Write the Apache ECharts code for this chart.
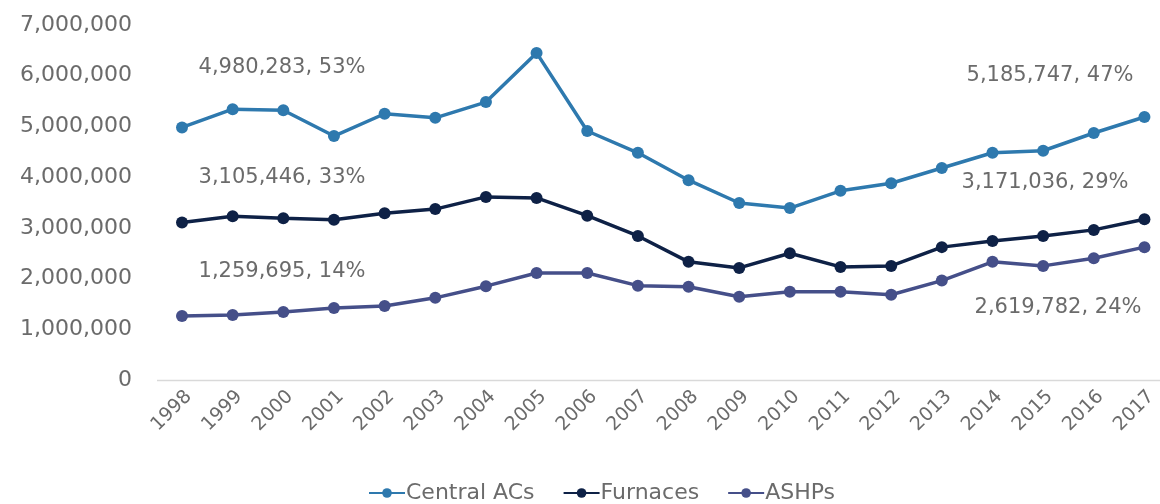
<!DOCTYPE html>
<html>
<head>
<meta charset="utf-8">
<script src="https://cdn.jsdelivr.net/npm/echarts@6/dist/echarts.min.js"></script>
<style>
  html, body { margin: 0; padding: 0; background: #fff; }
  #chart { width: 1160px; height: 504px; }
</style>
</head>
<body>
<div id="chart"></div>
<script>
// Data
const years = ['1998', '1999', '2000', '2001', '2002', '2003', '2004', '2005', '2006', '2007',
    '2008', '2009', '2010', '2011', '2012', '2013', '2014', '2015', '2016', '2017'];

const centralACs = [4980283, 5340000, 5320000, 4810000, 5250000, 5170000, 5480000, 6450000, 4910000, 4480000,
    3940000, 3490000, 3390000, 3730000, 3880000, 4180000, 4480000, 4520000, 4870000, 5185747];

const furnaces = [3105446, 3230000, 3190000, 3160000, 3290000, 3370000, 3610000, 3590000, 3240000, 2840000,
    2330000, 2210000, 2500000, 2230000, 2250000, 2620000, 2740000, 2840000, 2960000, 3171036];

const ashps = [1259695, 1280000, 1340000, 1420000, 1460000, 1620000, 1850000, 2110000, 2110000, 1860000,
    1840000, 1640000, 1740000, 1740000, 1680000, 1960000, 2330000, 2250000, 2400000, 2619782];

const notes = [
    { text: '4,980,283, 53%', x: 282, y: 68 },
    { text: '3,105,446, 33%', x: 282, y: 178 },
    { text: '1,259,695, 14%', x: 282, y: 272 },
    { text: '5,185,747, 47%', x: 1050, y: 76 },
    { text: '3,171,036, 29%', x: 1045, y: 183 },
    { text: '2,619,782, 24%', x: 1058, y: 308 }
];

const textColor = '#6b6b6b';
const fontFamily = '"DejaVu Sans", sans-serif';

const chart = echarts.init(document.getElementById('chart'));

function lineSeries(name, data, color) {
    return {
        name: name,
        type: 'line',
        data: data,
        symbol: 'circle',
        symbolSize: 12,
        lineStyle: { width: 3.5, color: color },
        itemStyle: { color: color },
        emphasis: { disabled: true }
    };
}

chart.setOption({
    animation: false,
    textStyle: { fontFamily: fontFamily },
    grid: { left: 182, top: 25, right: 13, bottom: 124, containLabel: false },
    legend: {
        top: 482,
        left: 368,
        padding: 0,
        itemWidth: 36,
        itemHeight: 12,
        itemGap: 28,
        textStyle: { color: textColor, fontSize: 22, fontFamily: fontFamily, padding: [0, 0, 0, -4] },
        data: ['Central ACs', 'Furnaces', 'ASHPs']
    },
    xAxis: {
        type: 'category',
        data: years,
        boundaryGap: false,
        axisLine: { show: false },
        axisTick: { show: false },
        axisLabel: { rotate: 45, color: textColor, fontSize: 19, margin: 7, interval: 0, verticalAlign: 'top' }
    },
    yAxis: {
        type: 'value',
        min: 0,
        max: 7000000,
        interval: 1000000,
        axisLine: { show: false },
        axisTick: { show: false },
        splitLine: { show: false },
        axisLabel: {
            color: textColor,
            fontSize: 22,
            margin: 50,
            formatter: v => v.toLocaleString('en-US')
        }
    },
    graphic: [{
        type: 'line',
        shape: { x1: 157, y1: 380.5, x2: 1160, y2: 380.5 },
        style: { stroke: '#d9d9d9', lineWidth: 1.5 },
        z: 0
    }].concat(notes.map(n => ({
        type: 'text',
        x: n.x,
        y: n.y,
        style: {
            text: n.text,
            fill: textColor,
            fontSize: 21,
            fontFamily: fontFamily,
            align: 'center',
            verticalAlign: 'middle'
        }
    }))),
    series: [
        lineSeries('Central ACs', centralACs, '#2e79ae'),
        lineSeries('Furnaces', furnaces, '#0e2146'),
        lineSeries('ASHPs', ashps, '#454f89')
    ]
});
</script>
</body>
</html>
